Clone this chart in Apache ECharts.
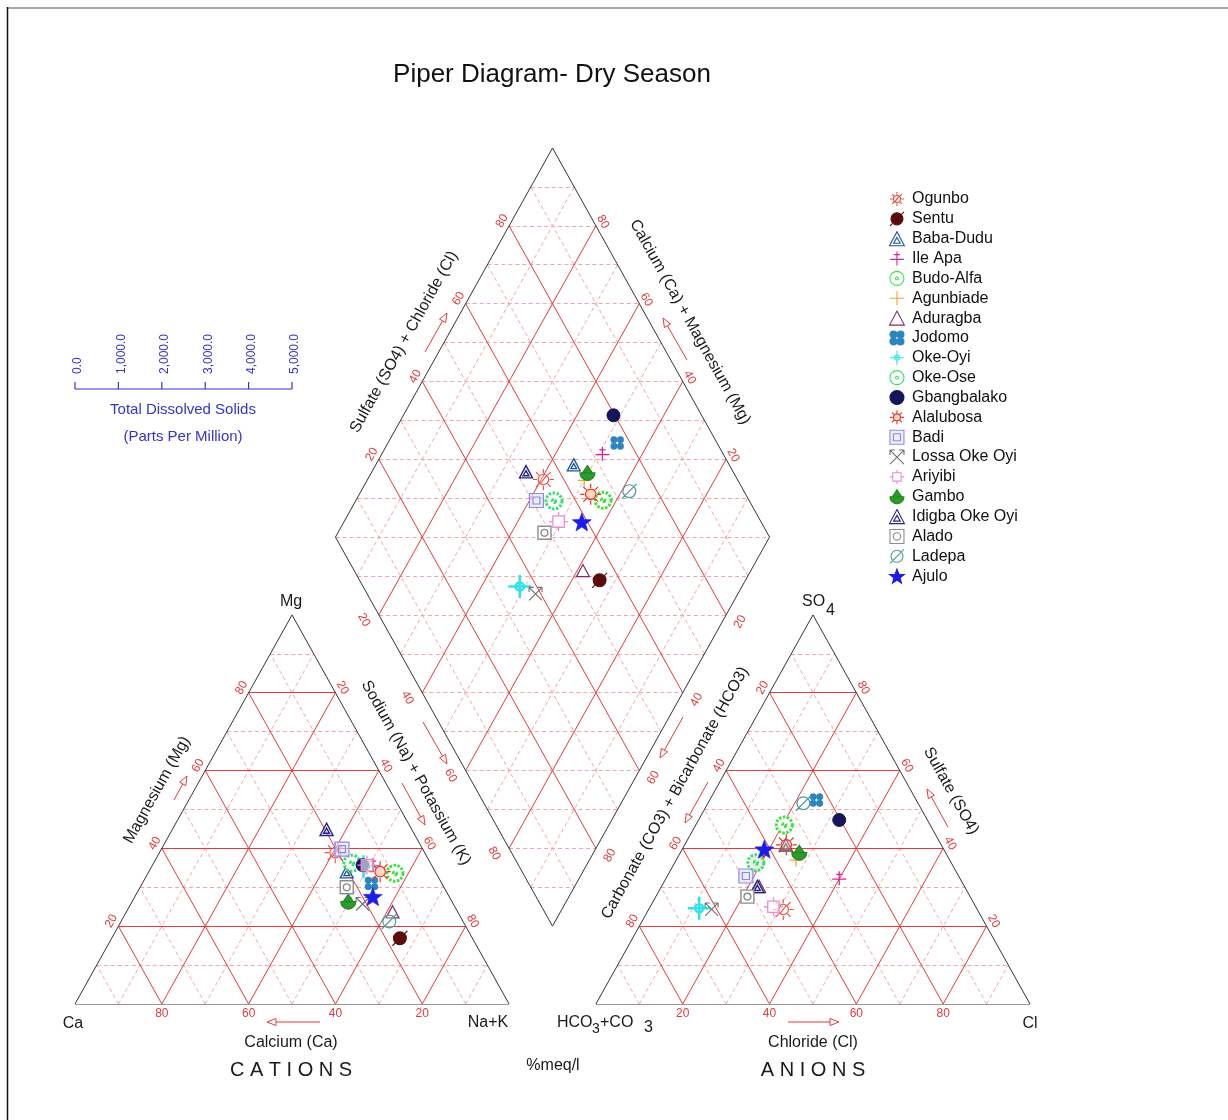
<!DOCTYPE html>
<html>
<head>
<meta charset="utf-8">
<title>Piper Diagram- Dry Season</title>
<script src="https://cdn.jsdelivr.net/npm/echarts@6/dist/echarts.min.js"></script>
<style>
  html, body { margin: 0; padding: 0; background: #fff; }
  #chart { width: 1228px; height: 1120px; }
</style>
</head>
<body>
<div id="chart"></div>
<script>
// Sampling sites (dry season)
const sites = ['Ogunbo', 'Sentu', 'Baba-Dudu', 'Ile Apa', 'Budo-Alfa', 'Agunbiade', 'Aduragba', 'Jodomo',
  'Oke-Oyi', 'Oke-Ose', 'Gbangbalako', 'Alalubosa', 'Badi', 'Lossa Oke Oyi', 'Ariyibi', 'Gambo',
  'Idigba Oke Oyi', 'Alado', 'Ladepa', 'Ajulo'];

// Cations, % meq/l
const ca  = [20.6, 16.7, 20.4, 13.5,  9.5, 14.5, 15.0, 16.2, 15.9, 18.1, 15.9, 12.7, 18.6, 20.9, 14.9, 23.9, 19.6, 22.4, 17.0, 17.6];
const mg  = [38.9, 16.9, 34.0, 35.7, 33.6, 35.5, 23.7, 31.0, 35.3, 36.2, 35.7, 34.0, 39.8, 25.7, 35.7, 26.3, 44.9, 30.0, 21.2, 27.6];
const naK = [40.5, 66.4, 45.6, 50.8, 56.9, 50.0, 61.3, 52.8, 48.8, 45.7, 48.4, 53.3, 41.6, 53.4, 49.4, 49.8, 35.5, 47.6, 61.8, 54.8];

// Anions, % meq/l
const hco3 = [44.7, 44.7, 35.8, 27.8, 33.6, 35.4, 47.3, 23.0, 63.9, 45.0, 20.3, 35.7, 49.0, 61.2, 46.6, 33.7, 47.7, 51.3, 26.4, 41.3];
const so4  = [24.3, 36.3, 40.9, 32.3, 46.0, 37.0, 30.2, 52.4, 24.6, 36.3, 47.3, 40.9, 32.9, 24.3, 25.0, 38.9, 30.2, 27.6, 51.6, 39.8];
const cl   = [31.0, 19.0, 23.3, 39.9, 20.4, 27.6, 22.5, 24.6, 11.5, 18.7, 32.4, 23.4, 18.1, 14.5, 28.4, 27.4, 22.1, 21.1, 22.0, 18.9];

// Ternary tick labels and TDS scale ticks
const ternaryTicks = [20, 40, 60, 80];
const tdsTicks = ['0.0', '1,000.0', '2,000.0', '3,000.0', '4,000.0', '5,000.0'];

const FONT = '"Liberation Sans", Arial, Helvetica, sans-serif';
const RED = '#e23b3b';
const PINK = '#f3a5a5';
const EDGE = '#333333';
const BLUE = '#3434c8';

// Layout in plot units: triangles have side 100, gap 20 between them
const H = Math.sqrt(3) / 2;
const GAP = 20;
const RX0 = 100 + GAP;                 // anion triangle origin
const DX = 100 + GAP / 2;              // diamond axis
const DY = GAP / 2 * Math.sqrt(3);     // diamond bottom height

// Diamond point from cation (Ca+Mg) and anion (SO4+Cl) sums
const P = (c, s) => [DX + (s - c) / 2, DY + (s + c) * H];

// ---------- grid lines ----------
const major = [], minor = [], outline = [];
function seg(list, a, b) { list.push({ coords: [a, b] }); }

function triangleGrid(x0) {
  for (let k = 10; k < 100; k += 10) {
    const L = k % 20 === 0 ? major : minor;
    seg(L, [x0 + k / 2, k * H], [x0 + 100 - k / 2, k * H]);
    seg(L, [x0 + k, 0], [x0 + k + (100 - k) / 2, (100 - k) * H]);
    seg(L, [x0 + k, 0], [x0 + k / 2, k * H]);
  }
  seg(outline, [x0, 0], [x0 + 100, 0]);
  seg(outline, [x0 + 100, 0], [x0 + 50, 100 * H]);
  seg(outline, [x0 + 50, 100 * H], [x0, 0]);
}
triangleGrid(0);
triangleGrid(RX0);

for (let k = 10; k < 100; k += 10) {
  const L = k % 20 === 0 ? major : minor;
  seg(L, P(k, 0), P(k, 100));
  seg(L, P(0, k), P(100, k));
}
for (let m = 10; m < 200; m += 10) {
  if (m <= 100) seg(minor, P(m, 0), P(0, m));
  else seg(minor, P(100, m - 100), P(m - 100, 100));
}
seg(outline, P(0, 0), P(100, 0));
seg(outline, P(100, 0), P(100, 100));
seg(outline, P(100, 100), P(0, 100));
seg(outline, P(0, 100), P(0, 0));

// ---------- marker shapes ----------
const circ = (cx, cy, r) => `M${cx + r} ${cy}A${r} ${r} 0 1 1 ${cx - r} ${cy}A${r} ${r} 0 1 1 ${cx + r} ${cy}Z`;
const rays = 'M10 0L10 4M10 16L10 20M0 10L4 10M16 10L20 10M3 3L6 6M14 14L17 17M17 3L14 6M3 17L6 14';
function starPath() {
  let d = '';
  for (let i = 0; i < 10; i++) {
    const r = i % 2 === 0 ? 10 : 4.2;
    const a = -Math.PI / 2 + i * Math.PI / 5;
    d += (i === 0 ? 'M' : 'L') + (10 + r * Math.cos(a)).toFixed(2) + ' ' + (10 + r * Math.sin(a)).toFixed(2);
  }
  return d + 'Z';
}
const shapes = {
  sun: circ(10, 10, 5) + rays,
  sunSlash: circ(10, 10, 5) + rays + 'M13 6L7 14',
  ballSlash: circ(10, 10, 6) + 'M3 17L17 3',
  triInner: 'M10 1L19 18L1 18ZM10 8L14 15L6 15Z',
  tri: 'M10 1L19 18L1 18Z',
  crossBar: 'M10 1L10 19M1 11L19 11M6 5L14 5',
  ringDot: circ(10, 10, 8) + circ(10, 10, 1.6),
  plus: 'M10 1L10 19M1 10L19 10',
  quad: circ(5.5, 5.5, 4.5) + circ(14.5, 5.5, 4.5) + circ(5.5, 14.5, 4.5) + circ(14.5, 14.5, 4.5),
  crossRing: 'M10 0L10 20M0 10L20 10' + circ(10, 10, 3.5),
  ball: circ(10, 10, 8),
  sqInner: 'M2 2L18 2L18 18L2 18ZM6 6L14 6L14 14L6 14Z',
  xArrow: 'M3 3L17 17M17 3L3 17M3 3L3 8M3 3L8 3M17 3L12 3M17 3L17 8',
  sqCross: 'M4 4L16 4L16 16L4 16ZM10 0L10 4M10 16L10 20M0 10L4 10M16 10L20 10',
  gambo: 'M1 10L19 10A9 9 0 0 1 1 10ZM4 10L10 1L16 10',
  sqRound: 'M2 2L18 2L18 18L2 18Z' + circ(10, 10, 4.2),
  circleSlash: circ(10, 10, 6) + 'M3 17L17 3',
  star: starPath()
};

// marker style per site (same order as sites)
const markerStyle = [
  { s: 'sunSlash',   size: 21, fill: 'rgba(255,255,255,0.2)', stroke: '#ec4a3f', bw: 1.1 },
  { s: 'ballSlash',  size: 15, fill: '#5b0c0c', stroke: '#5b0c0c', bw: 1.1 },
  { s: 'triInner',   size: 13, fill: 'rgba(255,255,255,0.5)', stroke: '#1f5596', bw: 1.3 },
  { s: 'crossBar',   size: 14, fill: 'rgba(0,0,0,0)', stroke: '#d8239b', bw: 1.3 },
  { s: 'ringDot',    size: 16, fill: 'rgba(255,255,255,0.9)', stroke: '#3ee03e', bw: 3, dash: [2.5, 1.5] },
  { s: 'plus',       size: 13, fill: 'rgba(0,0,0,0)', stroke: '#f2a33a', bw: 1.3 },
  { s: 'tri',        size: 13, fill: 'rgba(255,255,255,0.3)', stroke: '#7d2d6e', bw: 1.2 },
  { s: 'quad',       size: 13, fill: '#2c84be', stroke: '#2c84be', bw: 0.6 },
  { s: 'crossRing',  size: 23, fill: 'rgba(255,255,255,0.6)', stroke: '#30e3ea', bw: 2.5 },
  { s: 'ringDot',    size: 16, fill: 'rgba(255,255,255,0.9)', stroke: '#35e06c', bw: 3, dash: [2.5, 1.5] },
  { s: 'ball',       size: 13, fill: '#15155c', stroke: '#15155c', bw: 1 },
  { s: 'sun',        size: 21, fill: 'rgba(255,170,120,0.45)', stroke: '#ea3328', bw: 1.2 },
  { s: 'sqInner',    size: 14, fill: 'rgba(225,225,255,0.6)', stroke: '#8b8be6', bw: 1.2 },
  { s: 'xArrow',     size: 13, fill: 'rgba(0,0,0,0)', stroke: '#6e6e6e', bw: 1.1 },
  { s: 'sqCross',    size: 19, fill: 'rgba(255,255,255,0.6)', stroke: '#e88ed2', bw: 1.3 },
  { s: 'gambo',      size: 15, fill: '#2c9a2c', stroke: '#1e8a1e', bw: 1.1 },
  { s: 'triInner',   size: 13, fill: 'rgba(255,255,255,0.5)', stroke: '#232380', bw: 1.4 },
  { s: 'sqRound',    size: 13, fill: '#ffffff', stroke: '#8c8c8c', bw: 1.4 },
  { s: 'circleSlash',size: 15, fill: 'rgba(255,255,255,0.3)', stroke: '#4d9d9d', bw: 1.2 },
  { s: 'star',       size: 19, fill: '#1c1ce8', stroke: '#1c1ce8', bw: 0.6 }
];

// ---------- series ----------
const gridSeries = [
  { name: 'minor', type: 'lines', coordinateSystem: 'cartesian2d', silent: true, z: 1,
    lineStyle: { color: PINK, width: 1, type: [4, 3], opacity: 1 }, data: minor },
  { name: 'major', type: 'lines', coordinateSystem: 'cartesian2d', silent: true, z: 2,
    lineStyle: { color: RED, width: 1, opacity: 1 }, data: major },
  { name: 'outline', type: 'lines', coordinateSystem: 'cartesian2d', silent: true, z: 3,
    lineStyle: { color: EDGE, width: 1, opacity: 1 }, data: outline }
];

const pointSeries = sites.map((name, i) => {
  const m = markerStyle[i];
  const cation = [naK[i] + mg[i] / 2, mg[i] * H];
  const anion = [RX0 + cl[i] + so4[i] / 2, so4[i] * H];
  const diamond = P(ca[i] + mg[i], so4[i] + cl[i]);
  return {
    name, type: 'scatter', z: 5 + i * 0.01, silent: true,
    symbol: 'path://' + shapes[m.s], symbolKeepAspect: true, symbolSize: m.size,
    itemStyle: { color: m.fill, borderColor: m.stroke, borderWidth: m.bw, borderType: m.dash || 'solid', opacity: 1 },
    emphasis: { disabled: true },
    data: [cation, anion, diamond]
  };
});

const chart = echarts.init(document.getElementById('chart'), null, { renderer: 'canvas' });
chart.setOption({
  animation: false,
  backgroundColor: '#ffffff',
  grid: { left: 75, right: 198, top: 148, bottom: 116 },
  xAxis: { type: 'value', min: 0, max: 220, show: false },
  yAxis: { type: 'value', min: 0, max: 110 * Math.sqrt(3), show: false },
  legend: {
    data: sites, orient: 'vertical', left: 889, top: 191, padding: 0,
    itemWidth: 20, itemHeight: 14, itemGap: 3.85, selectedMode: false,
    itemStyle: { borderWidth: 1.1 },
    textStyle: { fontFamily: FONT, fontSize: 16, color: '#111' }
  },
  series: gridSeries.concat(pointSeries)
});

// ---------- text, arrows and frame ----------
const toPx = p => chart.convertToPixel({ gridIndex: 0 }, p);
const e0 = toPx([0, 0]), e1 = toPx([50, 100 * H]);
const ANG = Math.atan2(e0[1] - e1[1], e1[0] - e0[0]);

const G = [];
function txt(x, y, text, o) {
  o = o || {};
  const al = o.align || 'center', va = o.va || 'middle';
  G.push({
    type: 'text', x, y, rotation: o.rot || 0, silent: true, z: 20,
    style: { text, fill: o.color || '#1a1a1a', fontSize: o.size || 16, fontFamily: FONT,
      align: al, textAlign: al, verticalAlign: va, textVerticalAlign: va }
  });
}
function tick(pt, text, off, rot) {
  const p = toPx(pt);
  txt(p[0] + off[0], p[1] + off[1], String(text), { rot, color: RED, size: 12 });
}
ternaryTicks.forEach(k => {
  // cation triangle
  tick([k, 0], 100 - k, [0, 10], 0);
  tick([k / 2, k * H], k, [-7, -5], ANG);
  tick([50 + k / 2, (100 - k) * H], k, [7, -5], -ANG);
  // anion triangle
  tick([RX0 + k, 0], k, [0, 10], 0);
  tick([RX0 + k / 2, k * H], 100 - k, [-7, -5], ANG);
  tick([RX0 + 100 - k / 2, k * H], k, [7, -5], -ANG);
  // diamond
  tick(P(100, k), k, [-7, -5], ANG);
  tick(P(k, 100), k, [7, -4], -ANG);
  tick(P(100 - k, 0), k, [-15, 5], -ANG);
  tick(P(0, 100 - k), k, [14, 7], ANG);
});

function arrow(tail, head) {
  const dx = head[0] - tail[0], dy = head[1] - tail[1];
  const len = Math.hypot(dx, dy), ux = dx / len, uy = dy / len;
  const bx = head[0] - ux * 9, by = head[1] - uy * 9;
  const nx = -uy * 3.5, ny = ux * 3.5;
  G.push({ type: 'polyline', silent: true, z: 20, shape: { points: [tail, [bx, by]] },
    style: { stroke: RED, lineWidth: 1, fill: null } });
  G.push({ type: 'polygon', silent: true, z: 20, shape: { points: [head, [bx + nx, by + ny], [bx - nx, by - ny]] },
    style: { stroke: RED, lineWidth: 1, fill: '#fff' } });
}

// title
txt(552, 75, 'Piper Diagram- Dry Season', { size: 26, color: '#111' });

// corner labels
txt(291, 602, 'Mg');
txt(73, 1024, 'Ca');
txt(488, 1023, 'Na+K');
txt(1030, 1024, 'Cl');
txt(557, 1023, 'HCO', { align: 'left' });
txt(592, 1029, '3', { align: 'left', size: 14 });
txt(600, 1023, '+CO', { align: 'left' });
txt(644, 1028, '3', { align: 'left' });
txt(802, 602, 'SO', { align: 'left' });
txt(826, 611, '4', { align: 'left' });

// axis titles
txt(291, 1043, 'Calcium (Ca)');
txt(291, 1070, 'C A T I O N S', { size: 20 });
txt(813, 1043, 'Chloride (Cl)');
txt(813, 1070, 'A N I O N S', { size: 20 });
txt(553, 1066, '%meq/l');
txt(157, 790, 'Magnesium (Mg)', { rot: ANG });
txt(416, 773, 'Sodium (Na) + Potassium (K)', { rot: -ANG });
txt(404, 342, 'Sulfate (SO4) + Chloride (Cl)', { rot: ANG });
txt(690, 322, 'Calcium (Ca) + Magnesium (Mg)', { rot: -ANG });
txt(675, 793, 'Carbonate (CO3) + Bicarbonate (HCO3)', { rot: ANG });
txt(951, 791, 'Sulfate (SO4)', { rot: -ANG });

// direction arrows
arrow([320, 1022], [267, 1022]);
arrow([788, 1022], [839, 1022]);
arrow([174, 800], [187, 776]);
arrow([402, 783], [425, 825]);
arrow([423, 722], [447, 764]);
arrow([425, 352], [447, 313]);
arrow([687, 360], [663, 318]);
arrow([708, 782], [685, 823]);
arrow([683, 717], [660, 758]);
arrow([948, 827], [927, 789]);

// total dissolved solids scale
const tdsX0 = 75, tdsStep = 43.4, tdsY = 389;
G.push({ type: 'line', silent: true, z: 20,
  shape: { x1: tdsX0, y1: tdsY, x2: tdsX0 + tdsStep * (tdsTicks.length - 1), y2: tdsY },
  style: { stroke: BLUE, lineWidth: 1.2 } });
tdsTicks.forEach((t, i) => {
  const x = tdsX0 + i * tdsStep;
  G.push({ type: 'line', silent: true, z: 20, shape: { x1: x, y1: tdsY, x2: x, y2: tdsY - 7 },
    style: { stroke: BLUE, lineWidth: 1.2 } });
  txt(x + 3, 374, t, { rot: Math.PI / 2, align: 'left', color: BLUE, size: 12 });
});
txt(183, 410, 'Total Dissolved Solids', { color: BLUE, size: 15 });
txt(183, 437, '(Parts Per Million)', { color: BLUE, size: 15 });

// frame
G.push({ type: 'line', silent: true, z: 20, shape: { x1: 7, y1: 8, x2: 1228, y2: 8 },
  style: { stroke: '#8a8a8a', lineWidth: 1.5 } });
G.push({ type: 'line', silent: true, z: 20, shape: { x1: 7.5, y1: 7, x2: 7.5, y2: 1120 },
  style: { stroke: '#111', lineWidth: 1.5 } });

chart.setOption({ graphic: { elements: G } });
</script>
</body>
</html>
